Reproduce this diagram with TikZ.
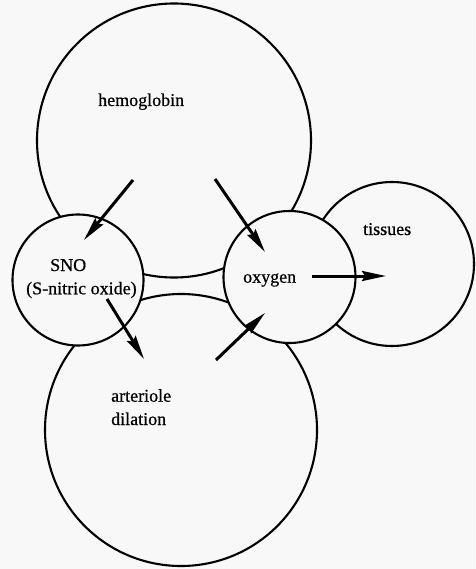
\documentclass[tikz,border=0pt]{standalone}
\usepackage{fontspec}
\setmainfont{Liberation Serif}[FakeBold=0.6]
\usetikzlibrary{arrows.meta}
\definecolor{paper}{HTML}{F8F8F8}
\begin{document}
\begin{tikzpicture}[x=1pt,y=-1pt,
  region/.style={circle,draw=black,line width=2.1pt,fill=paper,inner sep=0pt,minimum size=#1},
  tag/.style={font=\fontsize{18}{22}\selectfont,inner sep=0pt,anchor=base west},
  flow/.style={line width=3pt,-{Stealth[length=24pt,width=10pt,inset=3pt]}}]
\fill[paper] (0,0) rectangle (475,569);
\useasboundingbox (0,0) rectangle (475,569);

% large regions first, small ones on top so their outlines cut the big arcs
\node[region=274pt] (hemo) at (174,140.5) {};
\node[region=272pt] (art)  at (181,430) {};
\node[region=164pt] (tis)  at (392,264) {};
\node[region=131pt] (sno)  at (78,280) {};
\node[region=132pt] (oxy)  at (289.5,277) {};

% labels
\node[tag] (themo) at (98,106) {hemoglobin};
\node[tag] (tsno)  at (50,271) {SNO};
\node[tag] (tsnol) at (26,294.3) {(S-nitric oxide)};
\node[tag] (toxy)  at (243,282.7) {oxygen};
\node[tag] (ttis)  at (363,235) {tissues};
\node[tag] (tart1) at (111,401.7) {arteriole};
\node[tag] (tart2) at (111,425) {dilation};

% arrow end points
\coordinate (h2s) at (133,180);
\coordinate (h2e) at (84,240);
\coordinate (h2o) at (215,179);
\coordinate (h2oe) at (265,252);
\coordinate (s2a) at (107,299);
\coordinate (s2ae) at (144,359);
\coordinate (a2o) at (216,360);
\coordinate (a2oe) at (265,313);
\coordinate (o2t) at (312,276);
\coordinate (o2te) at (386,276);

\draw[flow] (h2s) -- (h2e);
\draw[flow] (h2o) -- (h2oe);
\draw[flow] (s2a) -- (s2ae);
\draw[flow] (a2o) -- (a2oe);
\draw[flow] (o2t) -- (o2te);
\end{tikzpicture}
\end{document}
